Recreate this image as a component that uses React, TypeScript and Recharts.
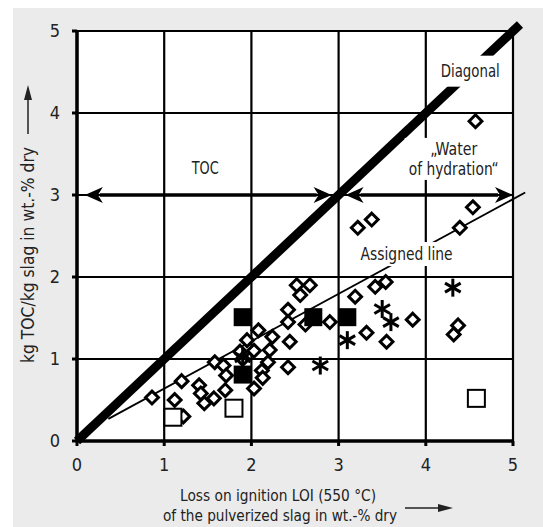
import React from 'react';
import { ScatterChart, Scatter, XAxis, YAxis, CartesianGrid, ReferenceLine, ReferenceDot } from 'recharts';

const TICKS = [0, 1, 2, 3, 4, 5];
const FONT = "'Liberation Sans Narrow', 'Arial Narrow', 'DejaVu Sans Condensed', 'Liberation Sans', sans-serif";
const INK = '#222';

// open diamonds
const diamondPoints = [
  { x: 0.86, y: 0.53 }, { x: 1.12, y: 0.5 }, { x: 1.2, y: 0.73 }, { x: 1.22, y: 0.3 },
  { x: 1.4, y: 0.68 }, { x: 1.42, y: 0.58 }, { x: 1.46, y: 0.46 }, { x: 1.57, y: 0.52 },
  { x: 1.58, y: 0.96 }, { x: 1.68, y: 0.92 }, { x: 1.71, y: 0.8 }, { x: 1.7, y: 0.62 },
  { x: 1.87, y: 1.09 }, { x: 1.9, y: 1.0 }, { x: 1.95, y: 1.23 }, { x: 2.03, y: 1.1 },
  { x: 2.08, y: 1.35 }, { x: 2.03, y: 0.64 }, { x: 2.12, y: 0.86 }, { x: 2.13, y: 0.77 },
  { x: 2.21, y: 1.11 }, { x: 2.24, y: 1.27 }, { x: 2.19, y: 0.96 }, { x: 2.42, y: 1.6 },
  { x: 2.42, y: 1.45 }, { x: 2.44, y: 1.21 }, { x: 2.42, y: 0.9 }, { x: 2.52, y: 1.9 },
  { x: 2.56, y: 1.78 }, { x: 2.67, y: 1.9 }, { x: 2.62, y: 1.42 }, { x: 2.9, y: 1.45 },
  { x: 3.19, y: 1.76 }, { x: 3.22, y: 2.6 }, { x: 3.38, y: 2.7 }, { x: 3.32, y: 1.32 },
  { x: 3.42, y: 1.88 }, { x: 3.54, y: 1.94 }, { x: 3.55, y: 1.21 }, { x: 3.85, y: 1.48 },
  { x: 4.32, y: 1.3 }, { x: 4.37, y: 1.41 }, { x: 4.39, y: 2.6 }, { x: 4.54, y: 2.85 },
  { x: 4.57, y: 3.9 },
];

const asteriskPoints = [
  { x: 1.9, y: 1.02 }, { x: 2.79, y: 0.92 }, { x: 3.1, y: 1.23 }, { x: 3.5, y: 1.61 },
  { x: 3.6, y: 1.45 }, { x: 4.31, y: 1.87 },
];

const filledSquarePoints = [
  { x: 1.9, y: 1.51 }, { x: 2.71, y: 1.51 }, { x: 3.1, y: 1.51 }, { x: 1.9, y: 0.81 },
];

const openSquarePoints = [
  { x: 1.1, y: 0.29 }, { x: 1.8, y: 0.4 }, { x: 4.58, y: 0.52 },
];

const diagonalLine = [{ x: 0, y: 0 }, { x: 5.08, y: 5.08 }];
const assignedLine = [{ x: 0.36, y: 0.27 }, { x: 5.14, y: 3.03 }];
const tocArrow = [{ x: 0.09, y: 3 }, { x: 2.92, y: 3 }];
const waterArrow = [{ x: 3.08, y: 3 }, { x: 5.0, y: 3 }];

const Diamond = (p: any) => {
  const { cx, cy } = p;
  const r = 6.4;
  return (
    <path
      d={`M${cx},${cy - r}L${cx + r},${cy}L${cx},${cy + r}L${cx - r},${cy}Z`}
      fill="#fff"
      stroke="#000"
      strokeWidth={3}
    />
  );
};

const Asterisk = (p: any) => {
  const { cx, cy } = p;
  const r = 9;
  const a = r * 0.87;
  const b = r * 0.5;
  return (
    <g stroke="#000" strokeWidth={3}>
      <line x1={cx} y1={cy - r} x2={cx} y2={cy + r} />
      <line x1={cx - a} y1={cy - b} x2={cx + a} y2={cy + b} />
      <line x1={cx - a} y1={cy + b} x2={cx + a} y2={cy - b} />
    </g>
  );
};

const FilledSquare = (p: any) => {
  const { cx, cy } = p;
  return <rect x={cx - 9} y={cy - 9} width={18} height={18} fill="#000" />;
};

const OpenSquare = (p: any) => {
  const { cx, cy } = p;
  return <rect x={cx - 8.5} y={cy - 8.5} width={17} height={17} fill="#fff" stroke="#000" strokeWidth={2} />;
};

const DoubleArrow = (p: any) => {
  const { x1, y1, x2, y2 } = p;
  const L = 18;
  const H = 8;
  return (
    <g>
      <line x1={x1 + L - 3} y1={y1} x2={x2 - L + 3} y2={y2} stroke="#000" strokeWidth={3.5} />
      <polygon points={`${x1},${y1} ${x1 + L},${y1 - H} ${x1 + L - 5},${y1} ${x1 + L},${y1 + H}`} fill="#000" />
      <polygon points={`${x2},${y2} ${x2 - L},${y2 - H} ${x2 - L + 5},${y2} ${x2 - L},${y2 + H}`} fill="#000" />
    </g>
  );
};

// text label with optional white box behind it
const boxLabel = (lines: string[], widths: number[], boxW: number, boxH: number, bg: boolean) => (p: any) => {
  const { cx, cy } = p;
  const lh = 20;
  const top = cy - ((lines.length - 1) * lh) / 2;
  return (
    <g>
      {bg && <rect x={cx - boxW / 2} y={cy - boxH / 2} width={boxW} height={boxH} fill="#fff" />}
      {lines.map((t, i) => (
        <text
          key={i}
          x={cx}
          y={top + i * lh}
          dy="0.36em"
          textAnchor="middle"
          fontFamily={FONT}
          fontSize={17}
          fill={INK}
          textLength={widths[i]}
          lengthAdjust="spacingAndGlyphs"
        >
          {t}
        </text>
      ))}
    </g>
  );
};

const XTitle = (p: any) => {
  const { viewBox } = p;
  const y0 = viewBox.y + viewBox.height;
  return (
    <g fill={INK} fontFamily={FONT} fontSize={16}>
      <text x={278} y={y0 + 24} dy="0.36em" textAnchor="middle" textLength={196} lengthAdjust="spacingAndGlyphs">
        Loss on ignition LOI (550 °C)
      </text>
      <text x={280} y={y0 + 44} dy="0.36em" textAnchor="middle" textLength={234} lengthAdjust="spacingAndGlyphs">
        of the pulverized slag in wt.-% dry
      </text>
      <line x1={405} y1={y0 + 37} x2={440} y2={y0 + 37} stroke={INK} strokeWidth={1.5} />
      <polygon points={`${453},${y0 + 37} ${438},${y0 + 33} ${438},${y0 + 41}`} fill={INK} />
    </g>
  );
};

const YTitle = () => (
  <g fill={INK} fontFamily={FONT} fontSize={17}>
    <text
      x={28}
      y={255}
      dy="0.36em"
      textAnchor="middle"
      transform="rotate(-90 28 255)"
      textLength={216}
      lengthAdjust="spacingAndGlyphs"
    >
      kg TOC/kg slag in wt.-% dry
    </text>
    <line x1={28} y1={134} x2={28} y2={98} stroke={INK} strokeWidth={1.5} />
    <polygon points={`28,85 24,100 32,100`} fill={INK} />
  </g>
);

export default function App() {
  const tick = { fill: INK, fontSize: 18, fontFamily: FONT };
  return (
    <div style={{ position: 'absolute', left: 0, top: 0, width: 543, height: 527, background: '#fff' }}>
      <div style={{ position: 'absolute', left: 13, top: 8, right: 0, bottom: 0, background: '#ebebeb' }} />
      <div style={{ position: 'absolute', left: 0, top: 0 }}>
        <ScatterChart width={543} height={527} margin={{ top: 31, right: 30, bottom: 56, left: 17 }}>
          <CartesianGrid fill="#fff" stroke="#000" strokeWidth={2.2} strokeOpacity={1} />
          <XAxis
            type="number"
            dataKey="x"
            domain={[0, 5]}
            ticks={TICKS}
            allowDataOverflow
            height={30}
            tick={tick}
            tickSize={5}
            tickMargin={12}
            axisLine={{ stroke: '#000', strokeWidth: 3.5 }}
            tickLine={{ stroke: '#000', strokeWidth: 3 }}
            label={{ content: XTitle } as any}
          />
          <YAxis
            type="number"
            dataKey="y"
            domain={[0, 5]}
            ticks={TICKS}
            allowDataOverflow
            width={60}
            tick={tick}
            tickSize={5}
            tickMargin={12}
            axisLine={{ stroke: '#000', strokeWidth: 3.5 }}
            tickLine={{ stroke: '#000', strokeWidth: 3 }}
            label={{ content: YTitle } as any}
          />
          <ReferenceLine segment={assignedLine} stroke="#000" strokeWidth={1.8} ifOverflow="visible" />
          <ReferenceLine segment={diagonalLine} stroke="#000" strokeWidth={9} ifOverflow="visible" />
          <ReferenceLine segment={tocArrow} ifOverflow="visible" shape={DoubleArrow} />
          <ReferenceLine segment={waterArrow} ifOverflow="visible" shape={DoubleArrow} />
          <Scatter data={diamondPoints} shape={Diamond} isAnimationActive={false} />
          <Scatter data={asteriskPoints} shape={Asterisk} isAnimationActive={false} />
          <Scatter data={openSquarePoints} shape={OpenSquare} isAnimationActive={false} />
          <Scatter data={filledSquarePoints} shape={FilledSquare} isAnimationActive={false} />
          <ReferenceDot x={4.51} y={4.51} r={0} ifOverflow="visible" shape={boxLabel(['Diagonal'], [59], 67, 31, true)} />
          <ReferenceDot x={1.47} y={3.33} r={0} ifOverflow="visible" shape={boxLabel(['TOC'], [27], 30, 20, false)} />
          <ReferenceDot
            x={4.32}
            y={3.44}
            r={0}
            ifOverflow="visible"
            shape={boxLabel(['\u201EWater', 'of hydration\u201C'], [47, 90], 98, 42, true)}
          />
          <ReferenceDot x={3.78} y={2.28} r={0} ifOverflow="visible" shape={boxLabel(['Assigned line'], [92], 98, 24, true)} />
        </ScatterChart>
      </div>
    </div>
  );
}
